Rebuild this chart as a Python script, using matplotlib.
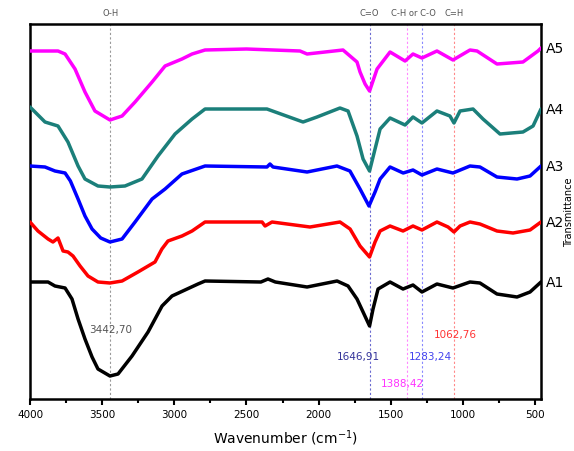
import matplotlib.pyplot as plt
from matplotlib.ticker import MultipleLocator

# stacked FTIR spectra (offset transmittance, arbitrary units)
w1 = [4000, 3875, 3827, 3757, 3709, 3667, 3619, 3570, 3529, 3446, 3390, 3293, 3182, 3085, 3016, 2926, 2836, 2787,
      2400, 2351, 2300, 2080, 1872, 1796, 1734, 1692, 1647, 1623, 1588, 1505, 1415, 1346, 1284, 1180, 1069, 951,
      882, 764, 625, 535, 459]
a1 = [117, 117, 113, 111, 100, 80, 60, 42, 30, 23, 25, 43, 67, 93, 103, 109, 115, 118,
      117, 120, 117, 112, 118, 113, 100, 87, 73, 90, 110, 117, 110, 114, 107, 115, 111, 117,
      116, 105, 102, 107, 117]

w2 = [4000, 3945, 3875, 3841, 3806, 3771, 3737, 3702, 3653, 3598, 3529, 3446, 3362, 3252, 3134, 3086, 3044, 2947,
      2877, 2787, 2392, 2371, 2323, 2060, 1852, 1782, 1713, 1647, 1609, 1574, 1505, 1415, 1346, 1284, 1180, 1103,
      1062, 1020, 951, 882, 764, 653, 535, 459]
a2 = [177, 168, 160, 157, 161, 148, 147, 143, 133, 123, 117, 116, 118, 127, 137, 150, 158, 163,
      168, 177, 177, 173, 177, 172, 177, 170, 153, 142, 157, 168, 173, 168, 173, 169, 177, 172,
      167, 173, 177, 175, 168, 166, 169, 177]

w3 = [4000, 3896, 3827, 3757, 3720, 3667, 3619, 3570, 3510, 3446, 3362, 3272, 3154, 3064, 2947, 2787, 2358, 2337,
      2316, 2080, 1873, 1783, 1713, 1651, 1609, 1574, 1505, 1414, 1346, 1284, 1180, 1069, 951, 882, 764, 625,
      535, 459]
a3 = [233, 232, 228, 226, 218, 200, 183, 170, 161, 157, 160, 177, 200, 210, 225, 233, 232, 235,
      232, 227, 233, 228, 210, 193, 207, 220, 232, 226, 229, 224, 230, 226, 233, 232, 222, 220,
      223, 233]

w4 = [4000, 3896, 3806, 3737, 3667, 3619, 3529, 3446, 3342, 3224, 3113, 2995, 2877, 2787, 2358, 2108, 2011, 1852,
      1796, 1734, 1692, 1647, 1609, 1574, 1505, 1401, 1346, 1284, 1180, 1090, 1062, 1020, 930, 861, 743, 584,
      514, 459]
a4 = [292, 277, 273, 257, 233, 220, 213, 212, 213, 220, 243, 265, 280, 290, 290, 277, 282, 291,
      288, 263, 240, 228, 250, 270, 281, 274, 282, 276, 288, 283, 276, 288, 290, 280, 265, 267,
      273, 290]

w5 = [4000, 3806, 3757, 3688, 3619, 3550, 3446, 3362, 3272, 3154, 3064, 2947, 2877, 2787, 2500, 2129, 2080, 1831,
      1734, 1713, 1678, 1647, 1595, 1505, 1401, 1346, 1284, 1180, 1069, 951, 902, 764, 584, 480, 459]
a5 = [348, 348, 345, 330, 307, 288, 279, 283, 297, 317, 333, 340, 345, 349, 350, 348, 345, 349,
      337, 327, 315, 308, 330, 347, 338, 345, 341, 348, 339, 349, 348, 335, 337, 348, 351]

names = ['A1', 'A2', 'A3', 'A4', 'A5']
colors = ['black', '#ff0000', '#0000ff', '#1b7f7a', '#ff00ff']

peaks = [3442.70, 1646.91, 1388.42, 1283.24, 1062.76]
peak_labels = ['3442,70', '1646,91', '1388,42', '1283,24', '1062,76']
peak_colors = ['#555555', '#333399', '#ff33ff', '#4444ee', '#ff3333']
line_colors = ['#999999', '#6a6ad0', '#ff88ff', '#8888ff', '#ff8888']
# where the wavenumber labels sit (x, y)
label_pos = [(3442.7, 70), (1727, 43), (1422, 16), (1228, 43), (1055, 65)]

groups = ['O-H', 'C=O', 'C-H or C-O', 'C=H']
group_x = [3442.7, 1646.91, 1346, 1062.76]

fig = plt.figure(figsize=(5.74, 4.52), dpi=100)
ax = fig.add_axes([30 / 574, 52 / 452, 511 / 574, 375 / 452])

for wx, c in zip(peaks, line_colors):
    ax.axvline(wx, color=c, lw=0.8, ls=(0, (2, 2)), zorder=1)

series = [(w1, a1), (w2, a2), (w3, a3), (w4, a4), (w5, a5)]
for (w, a), c, n in zip(series, colors, names):
    ax.plot(w, a, color=c, lw=2.5, solid_joinstyle='round', solid_capstyle='round', zorder=3)
    ax.text(1.01, a[-1], n, transform=ax.get_yaxis_transform(), fontsize=10,
            va='center', ha='left')

for (px, py), t, c in zip(label_pos, peak_labels, peak_colors):
    ax.text(px, py, t, color=c, fontsize=7.5, ha='center', va='center')

for gx, g in zip(group_x, groups):
    ax.text(gx, 382, g, color='#555555', fontsize=6, ha='center', va='bottom', clip_on=False)

ax.set_xlim(4000, 459)
ax.set_ylim(0, 375)
ax.xaxis.set_major_locator(MultipleLocator(500))
ax.xaxis.set_minor_locator(MultipleLocator(250))
ax.tick_params(axis='x', which='major', direction='out', length=4, width=1.5, labelsize=7.5, pad=3)
ax.tick_params(axis='x', which='minor', direction='out', length=3, width=1.5)
ax.set_yticks([])
for s in ax.spines.values():
    s.set_linewidth(1.8)

ax.set_xlabel('Wavenumber (cm$^{-1}$)', fontsize=10, labelpad=6)
# right-hand axis title, squeezed in at the figure edge
fig.text(569 / 574, 0.53, 'Transmittance', rotation=90, fontsize=7, ha='center', va='center')

fig.savefig('out.png', dpi=100)
